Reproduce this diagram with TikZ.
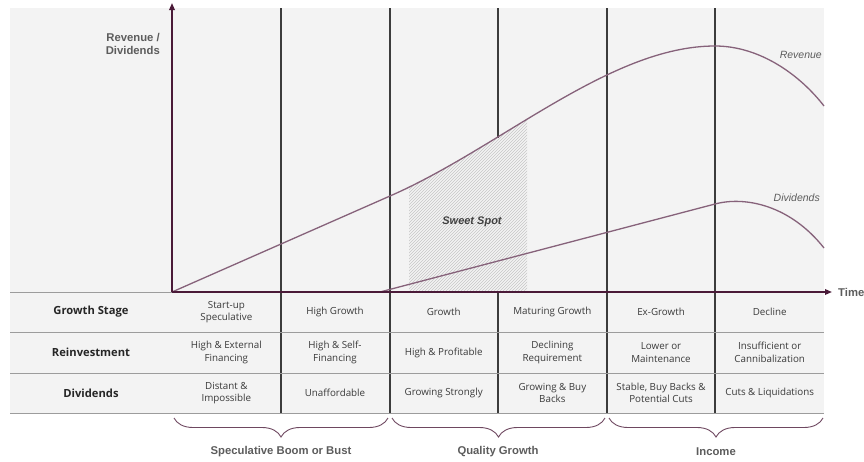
\documentclass[tikz,border=0pt]{standalone}
\usepackage{fontspec}
\setmainfont{Liberation Sans}
\newfontfamily\cellfont{Open Sans}
\usetikzlibrary{arrows.meta,patterns,decorations.pathreplacing}
\definecolor{panelgray}{HTML}{F3F3F3}
\definecolor{axispurple}{HTML}{4A1A38}
\definecolor{curvepurple}{HTML}{86627A}
\definecolor{gridline}{HTML}{3C3C3C}
\definecolor{rowline}{HTML}{9C9C9C}
\definecolor{labelgray}{HTML}{5C5C5C}
\definecolor{celltext}{HTML}{3A3A3A}
\tikzset{cell/.style={font=\cellfont\fontsize{9.8}{12.5}\selectfont,text=celltext,align=center,inner sep=0pt}}
\tikzset{rowhead/.style={font=\cellfont\bfseries\fontsize{11.2}{13}\selectfont,text=black!85,inner sep=0pt}}

\begin{document}
\begin{tikzpicture}[
        x=1pt, y=-1pt,
        >={Triangle[length=7pt,width=5.5pt]},
        axis/.style={
            axispurple,
            line width=1.6pt,
        },
        curve/.style={
            curvepurple,
            line width=1.3pt,
        },
        mylabel/.style={
            font=\bfseries\fontsize{11.3}{13}\selectfont,
            text=labelgray,
            inner sep=0pt,
        },
        curvelabel/.style={
            font=\itshape\fontsize{10.5}{12}\selectfont,
            text=labelgray,
            inner sep=0pt,
        },
        bracket/.style={
            decorate,
            decoration={brace,amplitude=19pt,aspect=0.5},
            axispurple!80,
            line width=0.9pt,
        },
    ]
    \useasboundingbox (0,0) rectangle (864,461);

    % Background panel
    \fill[panelgray] (10,8) rectangle (824,413);

    % Sweet spot hatching under the revenue curve
    \begin{scope}
        \clip (409,0) rectangle (527,292);
        \fill[pattern=north east lines, pattern color=black!22]
            (172,292) -- (390,196) .. controls (500,148) and (610,46) .. (715,46)
            -- (715,292) -- cycle;
    \end{scope}

    % Stage separators
    \foreach \x in {281,390,607,715}
        \draw[gridline, line width=1.1pt] (\x,8) -- (\x,413);
    \draw[gridline, line width=1.1pt] (498,8) -- (498,138);
    \draw[gridline, line width=1.1pt] (498,292) -- (498,413);

    % Table rows
    \draw[rowline, line width=1pt] (10,292) -- (172,292);
    \foreach \y in {332,373,413}
        \draw[rowline, line width=1pt] (10,\y) -- (824,\y);

    % Curves
    \draw[curve] (172,292) -- (390,196) .. controls (500,148) and (610,46) .. (715,46)
        .. controls (760,46) and (800,75) .. (824,106);
    \draw[curve] (380,292) -- (715,204) .. controls (745,196) and (790,205) .. (824,248);

    % Axes
    \draw[axis, ->] (172,292) -- (172,3);
    \draw[axis, ->] (172,292) -- (832,292);

    % Axis and curve labels
    \node[mylabel, anchor=east, align=right] (ylab) at (160,44) {Revenue /\\Dividends};
    \node[mylabel, anchor=west] (xlab) at (838,292) {Time};
    \node[curvelabel, anchor=east] (revlab) at (822,55) {Revenue};
    \node[curvelabel, anchor=east] (divlab) at (820,198) {Dividends};
    \node[font=\bfseries\itshape\fontsize{11}{13}\selectfont, text=black!75] (sweet) at (472,222) {Sweet Spot};

    % Row headings
    \node[rowhead] (hstage) at (91,312) {Growth Stage};
    \node[rowhead] (hreinv) at (91,352.5) {Reinvestment};
    \node[rowhead] (hdivi) at (91,393) {Dividends};

    % Table cells named stage#, reinv# and divi#
    \foreach \txt [count=\i] in {{Start-up\\Speculative},{High Growth},{Growth},{Maturing Growth},{Ex-Growth},{Decline}}
        \node[cell] (stage\i) at ({172+108.67*(\i-0.5)},312) {\txt};
    \foreach \txt [count=\i] in {{High \& External\\Financing},{High \& Self-\\Financing},{High \& Profitable},{Declining\\Requirement},{Lower or\\Maintenance},{Insufficient or\\Cannibalization}}
        \node[cell] (reinv\i) at ({172+108.67*(\i-0.5)},352.5) {\txt};
    \foreach \txt [count=\i] in {{Distant \&\\Impossible},{Unaffordable},{Growing Strongly},{Growing \& Buy\\Backs},{Stable, Buy Backs \&\\Potential Cuts},{Cuts \& Liquidations}}
        \node[cell] (divi\i) at ({172+108.67*(\i-0.5)},393) {\txt};

    % Phase braces
    \coordinate (b0) at (174,418);
    \coordinate (b1) at (388,418);
    \coordinate (b2) at (392,418);
    \coordinate (b3) at (605,418);
    \coordinate (b4) at (609,418);
    \coordinate (b5) at (823,418);
    \draw[bracket] (b1) -- (b0);
    \draw[bracket] (b3) -- (b2);
    \draw[bracket] (b5) -- (b4);
    \node[mylabel] (spec) at (281,452) {Speculative Boom or Bust};
    \node[mylabel] (qual) at (498,452) {Quality Growth};
    \node[mylabel] (inc) at (716,452) {Income};
\end{tikzpicture}
\end{document}
